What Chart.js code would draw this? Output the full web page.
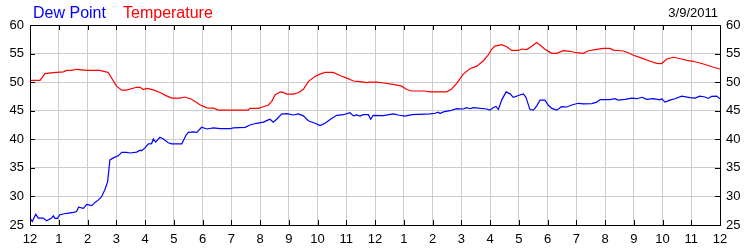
<!DOCTYPE html>
<html>
<head>
<meta charset="utf-8">
<script src="https://cdn.jsdelivr.net/npm/chart.js@4/dist/chart.umd.min.js"></script>
<style>
    body { margin: 0; background: #fff; }
    #wrap { width: 750px; height: 250px; }
</style>
</head>
<body>
<div id="wrap"><canvas id="weatherChart" width="750" height="250"></canvas></div>
<script>
// Data (jam sejak tengah malam)
const tempHours = [0, 0.35, 0.52, 0.81, 1.16, 1.28, 1.45, 1.62, 1.97, 2.43, 2.61, 2.72, 3.01, 3.19, 3.36, 3.71, 3.83, 3.94, 4.06, 4.29,
    4.52, 4.75, 4.93, 5.22, 5.39, 5.62, 5.91, 6.15, 6.38, 6.55, 7.07, 7.59, 7.65, 7.94, 8.12, 8.29, 8.41, 8.52, 8.70, 8.81,
    8.93, 9.16, 9.33, 9.51, 9.68, 9.91, 10.09, 10.26, 10.55, 10.78, 11.02, 11.25, 11.48, 11.71, 11.83, 12.06, 12.29, 12.64, 12.93, 13.1,
    13.28, 13.74, 13.91, 14.49, 14.67, 14.84, 15.07, 15.3, 15.54, 15.77, 15.94, 16.06, 16.17, 16.41, 16.58, 16.75, 16.99, 17.1, 17.28, 17.45,
    17.62, 17.74, 17.91, 18.15, 18.32, 18.55, 18.78, 19.01, 19.25, 19.42, 19.71, 19.94, 20.17, 20.29, 20.64, 20.81, 20.99, 21.28, 21.57, 21.8,
    21.97, 22.15, 22.38, 22.67, 22.84, 23.07, 23.3, 23.54, 23.77, 24];
const tempValues = [50.3, 50.3, 51.5, 51.65, 51.8, 52.05, 52.05, 52.25, 52.05, 52.05, 51.85, 51.7, 49.3, 48.6, 48.6, 49.1, 49.1, 48.7, 48.9, 48.65,
    48.2, 47.6, 47.2, 47.2, 47.4, 47.0, 46.05, 45.5, 45.45, 45.1, 45.1, 45.1, 45.4, 45.4, 45.7, 46.0, 46.65, 47.75, 48.3, 48.2,
    47.9, 47.9, 48.15, 48.75, 50.1, 51.0, 51.4, 51.7, 51.7, 51.15, 50.7, 50.2, 50.1, 49.9, 50.0, 50.0, 49.85, 49.6, 49.3, 48.7,
    48.45, 48.45, 48.3, 48.3, 48.8, 49.8, 51.4, 52.35, 52.8, 53.75, 54.75, 55.75, 56.3, 56.55, 56.2, 55.55, 55.55, 55.8, 55.7, 56.3,
    56.95, 56.5, 55.75, 55.05, 55.05, 55.5, 55.4, 55.15, 55.05, 55.5, 55.75, 55.9, 55.9, 55.6, 55.45, 55.15, 54.7, 54.2, 53.65, 53.3,
    53.25, 54.05, 54.35, 54.05, 53.8, 53.65, 53.35, 53.0, 52.6, 52.3];

const dewHours = [0, 0.08, 0.2, 0.29, 0.46, 0.58, 0.75, 0.81, 0.87, 0.95, 1.04, 1.28, 1.51, 1.62, 1.69, 1.86, 1.97, 2.15, 2.26, 2.38,
    2.49, 2.61, 2.7, 2.78, 2.9, 3.07, 3.19, 3.36, 3.48, 3.71, 3.83, 3.88, 4.0, 4.12, 4.23, 4.29, 4.37, 4.52, 4.64, 4.81,
    4.93, 5.28, 5.43, 5.51, 5.68, 5.8, 5.97, 6.15, 6.38, 6.61, 6.96, 7.07, 7.48, 7.65, 7.88, 8.12, 8.29, 8.35, 8.46, 8.58,
    8.75, 8.93, 9.16, 9.33, 9.51, 9.68, 9.91, 10.09, 10.26, 10.49, 10.67, 10.9, 11.13, 11.25, 11.36, 11.48, 11.59, 11.77, 11.85, 11.94,
    12.29, 12.64, 12.81, 13.04, 13.28, 13.91, 14.09, 14.2, 14.26, 14.38, 14.61, 14.84, 15.07, 15.19, 15.3, 15.42, 15.88, 16.0, 16.12, 16.21,
    16.29, 16.41, 16.56, 16.7, 16.81, 17.04, 17.16, 17.25, 17.39, 17.51, 17.62, 17.74, 17.91, 18.03, 18.15, 18.32, 18.49, 18.67, 18.84, 19.07,
    19.25, 19.54, 19.71, 19.83, 20.17, 20.35, 20.46, 20.7, 20.93, 21.1, 21.28, 21.45, 21.68, 21.91, 21.97, 22.09, 22.26, 22.43, 22.67, 22.96,
    23.13, 23.3, 23.48, 23.59, 23.71, 23.88, 24];
const dewValues = [26.2, 25.6, 26.9, 26.2, 26.2, 25.75, 26.2, 26.6, 26.15, 26.15, 26.8, 27.05, 27.2, 27.35, 28.1, 27.9, 28.6, 28.4, 28.95, 29.4,
    29.95, 31.25, 32.6, 36.4, 36.75, 37.1, 37.7, 37.7, 37.6, 37.75, 38.1, 38.0, 38.5, 39.2, 39.25, 40.05, 39.5, 40.35, 40.05, 39.4,
    39.2, 39.2, 40.75, 41.2, 41.3, 41.2, 42.1, 41.8, 42.0, 41.85, 41.85, 42.0, 42.1, 42.5, 42.8, 43.0, 43.4, 43.5, 43.0, 43.5,
    44.4, 44.5, 44.25, 44.45, 44.1, 43.25, 42.8, 42.4, 42.8, 43.65, 44.2, 44.3, 44.65, 44.1, 44.25, 44.05, 44.3, 44.3, 43.5, 44.2,
    44.15, 44.45, 44.25, 44.05, 44.3, 44.45, 44.55, 44.75, 44.5, 44.8, 45.0, 45.35, 45.3, 45.55, 45.35, 45.55, 45.3, 45.1, 45.55, 45.75,
    45.2, 46.9, 48.3, 47.95, 47.35, 47.75, 47.95, 47.35, 45.2, 45.1, 45.8, 46.85, 46.85, 45.95, 45.4, 45.1, 45.7, 45.65, 46.0, 46.3,
    46.2, 46.25, 46.5, 46.95, 46.95, 47.1, 46.85, 47.0, 47.2, 47.1, 47.35, 47.0, 47.1, 46.9, 47.1, 46.5, 46.85, 47.1, 47.55, 47.3,
    47.2, 47.55, 47.4, 47.15, 47.5, 47.55, 47.1];

const hourTicks = [0, 1, 2, 3, 4, 5, 6, 7, 8, 9, 10, 11, 12, 13, 14, 15, 16, 17, 18, 19, 20, 21, 22, 23, 24];
const tempTicks = [25, 30, 35, 40, 45, 50, 55, 60];
const seriesNames = ['Dew Point', 'Temperature'];
const dateLabel = '3/9/2011';

const FONT = '"Liberation Sans", Arial, sans-serif';

function hourLabel(h) {
    const m = h % 12;
    return m === 0 ? '12' : String(m);
}

// Bingkai, tick ke dalam, dan teks header
const framePlugin = {
    id: 'frame',
    afterDatasetsDraw(chart) {
        const { ctx, chartArea: a, scales } = chart;
        ctx.save();
        ctx.strokeStyle = '#000';
        ctx.lineWidth = 1;
        ctx.beginPath();
        hourTicks.forEach(function(h) {
            const px = Math.round(scales.x.getPixelForValue(h)) + 0.5;
            ctx.moveTo(px, a.bottom); ctx.lineTo(px, a.bottom - 5);
            ctx.moveTo(px, a.top); ctx.lineTo(px, a.top + 5);
        });
        tempTicks.forEach(function(v) {
            const py = Math.round(scales.y.getPixelForValue(v)) + 0.5;
            ctx.moveTo(a.left, py); ctx.lineTo(a.left + 5, py);
            ctx.moveTo(a.right, py); ctx.lineTo(a.right - 5, py);
        });
        ctx.stroke();
        ctx.strokeRect(Math.round(a.left) + 0.5, Math.round(a.top) + 0.5,
            Math.round(a.right - a.left), Math.round(a.bottom - a.top));

        // Header
        ctx.textBaseline = 'alphabetic';
        ctx.font = '16px ' + FONT;
        ctx.textAlign = 'left';
        ctx.fillStyle = '#0000ff';
        ctx.fillText(seriesNames[0], 33, 18);
        ctx.fillStyle = '#ff0000';
        ctx.fillText(seriesNames[1], 123, 18);
        ctx.font = '13px ' + FONT;
        ctx.fillStyle = '#000';
        ctx.textAlign = 'right';
        ctx.fillText(dateLabel, 718, 17);
        ctx.restore();
    }
};

const ctx = document.getElementById('weatherChart').getContext('2d');
new Chart(ctx, {
    type: 'line',
    data: {
        datasets: [{
            label: seriesNames[1],
            data: tempHours.map((h, i) => ({ x: h, y: tempValues[i] })),
            borderColor: '#ff0000',
            borderWidth: 1.2,
            pointRadius: 0,
            tension: 0,
            yAxisID: 'y'
        }, {
            label: seriesNames[0],
            data: dewHours.map((h, i) => ({ x: h, y: dewValues[i] })),
            borderColor: '#0000ff',
            borderWidth: 1.2,
            pointRadius: 0,
            tension: 0,
            yAxisID: 'y'
        }]
    },
    options: {
        responsive: false,
        animation: false,
        layout: { padding: { top: 25, left: 0, right: 0, bottom: 0 } },
        plugins: {
            legend: { display: false },
            tooltip: { enabled: false }
        },
        scales: {
            x: {
                type: 'linear',
                min: 0,
                max: 24,
                afterBuildTicks: (scale) => { scale.ticks = hourTicks.map(v => ({ value: v })); },
                afterFit: (scale) => { scale.height = 25; },
                grid: { color: '#cccccc', drawTicks: false },
                border: { display: false },
                ticks: {
                    callback: (v) => hourLabel(v),
                    color: '#000',
                    font: { family: FONT, size: 13 },
                    padding: 7,
                    maxRotation: 0,
                    autoSkip: false
                }
            },
            y: {
                position: 'left',
                min: 25,
                max: 60,
                afterBuildTicks: (scale) => { scale.ticks = tempTicks.map(v => ({ value: v })); },
                afterFit: (scale) => { scale.width = 30; },
                grid: { color: '#cccccc', drawTicks: false },
                border: { display: false },
                ticks: { color: '#000', font: { family: FONT, size: 13 }, padding: 6 }
            },
            y2: {
                position: 'right',
                min: 25,
                max: 60,
                afterBuildTicks: (scale) => { scale.ticks = tempTicks.map(v => ({ value: v })); },
                afterFit: (scale) => { scale.width = 30; },
                grid: { display: false, drawTicks: false },
                border: { display: false },
                ticks: { color: '#000', font: { family: FONT, size: 13 }, padding: 6 }
            }
        }
    },
    plugins: [framePlugin]
});
</script>
</body>
</html>
